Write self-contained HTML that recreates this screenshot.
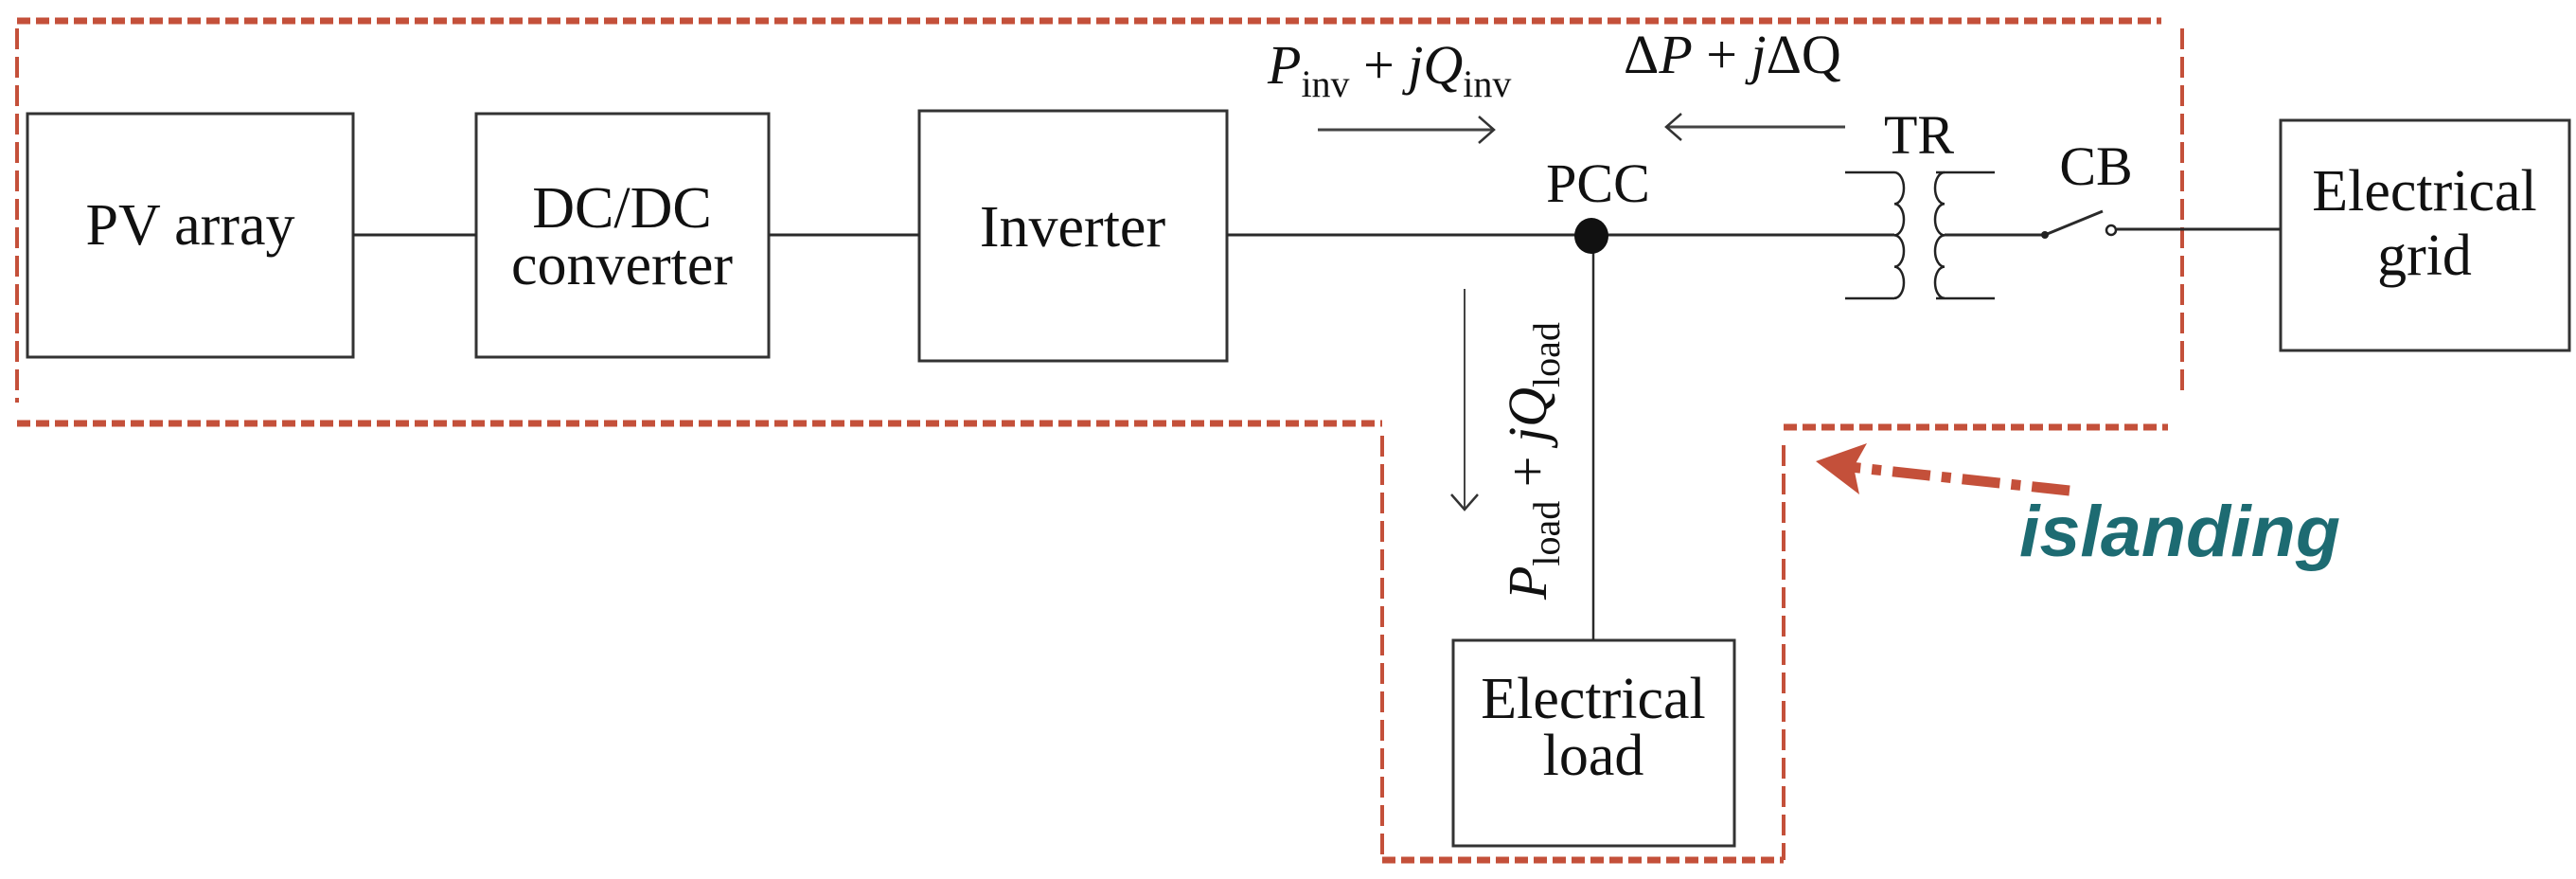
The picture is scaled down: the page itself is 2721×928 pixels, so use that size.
<!DOCTYPE html>
<html><head><meta charset="utf-8"><style>
html,body{margin:0;padding:0;background:#fff;}
svg{display:block;}
.t{font-family:"Liberation Serif",serif;fill:#111;}
</style></head><body>
<svg width="2721" height="928" viewBox="0 0 2721 928" xmlns="http://www.w3.org/2000/svg">
<defs>
<marker id="oa" markerWidth="20" markerHeight="30" refX="18" refY="15" orient="auto" markerUnits="userSpaceOnUse">
<path d="M2,1 L18,15 L2,29" fill="none" stroke="#333" stroke-width="2.5"/>
</marker>
</defs>
<!-- red dashed boundary -->
<g stroke="#c4503a" fill="none">
<path d="M18,22 H2283" stroke-width="7" stroke-dasharray="14,6"/>
<path d="M18,447 H1460" stroke-width="7" stroke-dasharray="14,6"/>
<path d="M1884,451 H2290" stroke-width="7" stroke-dasharray="14,6"/>
<path d="M1460,908 H1884" stroke-width="7" stroke-dasharray="14,6"/>
<path d="M18,30 V425" stroke-width="4" stroke-dasharray="22,8"/>
<path d="M2305,30 V418" stroke-width="4" stroke-dasharray="22,8"/>
<path d="M1460,460 V908" stroke-width="4" stroke-dasharray="22,8"/>
<path d="M1884,470 V908" stroke-width="4" stroke-dasharray="22,8"/>
</g>
<!-- boxes -->
<g fill="#fff" stroke="#333" stroke-width="3">
<rect x="29" y="120" width="344" height="257"/>
<rect x="503" y="120" width="309" height="257"/>
<rect x="971" y="117" width="325" height="264"/>
<rect x="2409" y="127" width="305" height="243"/>
<rect x="1535" y="676" width="297" height="217"/>
</g>
<!-- connectors -->
<g stroke="#2a2a2a" stroke-width="3" fill="none">
<path d="M373,248 H503"/>
<path d="M812,248 H971"/>
<path d="M1296,248 H2001"/>
<path d="M2054,248 H2160"/>
<path d="M2160,248 L2221,223"/>
<path d="M2236,242 H2409"/>
<path d="M1683,250 V676" stroke-width="2.5"/>
</g>
<circle cx="2230" cy="243" r="5" fill="#fff" stroke="#222" stroke-width="2.5"/>
<circle cx="2160" cy="248" r="4" fill="#222"/>
<ellipse cx="1681" cy="249" rx="18" ry="19" fill="#111"/>
<!-- transformer -->
<g stroke="#222" stroke-width="2.5" fill="none">
<path d="M1949,182 H2001"/><path d="M1949,315 H2001"/>
<path d="M2045,182 H2107"/><path d="M2045,315 H2107"/>
<path d="M2001,182 a10,16.6 0 0 1 0,33.2 a10,16.6 0 0 1 0,33.2 a10,16.6 0 0 1 0,33.2 a10,16.6 0 0 1 0,33.2"/>
<path d="M2054,182 a10,16.6 0 0 0 0,33.2 a10,16.6 0 0 0 0,33.2 a10,16.6 0 0 0 0,33.2 a10,16.6 0 0 0 0,33.2"/>
</g>
<!-- flow arrows -->
<g stroke="#444" stroke-width="3" fill="none">
<path d="M1392,137 H1578" marker-end="url(#oa)"/>
<path d="M1949,134 H1760" marker-end="url(#oa)"/>
<path d="M1547,305 V538" stroke-width="2" marker-end="url(#oa)"/>
</g>
<!-- text -->
<g class="t" font-size="62" text-anchor="middle">
<text x="201" y="258">PV array</text>
<text x="657" y="240">DC/DC</text>
<text x="657" y="300">converter</text>
<text x="1133" y="260">Inverter</text>
<text x="2561" y="222">Electrical</text>
<text x="2561" y="290">grid</text>
<text x="1683" y="758">Electrical</text>
<text x="1683" y="818">load</text>
<text x="1688" y="213" font-size="58">PCC</text>
<text x="2027" y="162" font-size="58">TR</text>
<text x="2214" y="195" font-size="58">CB</text>
</g>
<text class="t" x="1339" y="88" font-size="58"><tspan font-style="italic">P</tspan><tspan font-size="40" dy="14">inv</tspan><tspan dy="-14"> + </tspan><tspan font-style="italic">jQ</tspan><tspan font-size="40" dy="14">inv</tspan></text>
<text class="t" x="1715" y="77" font-size="58">Δ<tspan font-style="italic">P</tspan> + <tspan font-style="italic">j</tspan>ΔQ</text>
<text class="t" transform="translate(1633,633) rotate(-90)" font-size="58"><tspan font-style="italic">P</tspan><tspan font-size="40" dy="14">load</tspan><tspan dy="-14"> + </tspan><tspan font-style="italic">jQ</tspan><tspan font-size="40" dy="14">load</tspan></text>
<!-- islanding arrow -->
<path d="M2186,518 L1945,492" stroke="#c4503a" stroke-width="11" stroke-dasharray="40,12,10,12" fill="none"/>
<path d="M1918,487 L1972,468 L1958,493 L1964,522 Z" fill="#c4503a"/>
<text x="2133" y="587" font-family="Liberation Sans, sans-serif" font-weight="bold" font-style="italic" font-size="76" fill="#1d6b72" textLength="339" lengthAdjust="spacingAndGlyphs">islanding</text>
</svg>
</body></html>
